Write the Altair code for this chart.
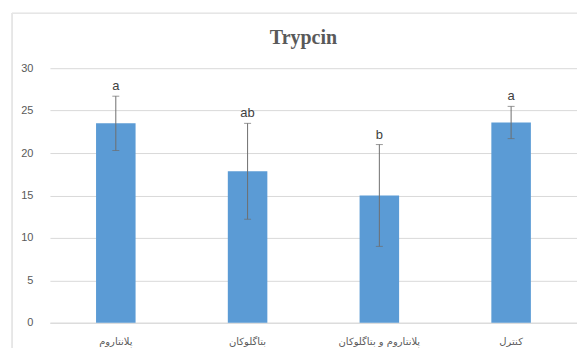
import altair as alt
import pandas as pd

categories = ["پلانتاروم", "بتاگلوکان", "پلانتاروم و بتاگلوکان", "کنترل"]
means = [23.5, 17.85, 15.0, 23.6]
errors = [3.2, 5.65, 6.0, 1.9]
letters = ["a", "ab", "b", "a"]

df = pd.DataFrame({
    "cat": categories,
    "mean": means,
    "err": errors,
    "letter": letters,
})
df["lo"] = df["mean"] - df["err"]
df["hi"] = df["mean"] + df["err"]

x = alt.X("cat:N", sort=categories, title=None,
          scale=alt.Scale(paddingInner=0.7, paddingOuter=0.35),
          axis=alt.Axis(labelAngle=0, labelFont="DejaVu Sans", labelFontSize=10,
                        labelColor="#595959", labelPadding=14, ticks=False,
                        domainColor="#d9d9d9", grid=False))
y = alt.Y("mean:Q", title=None,
          scale=alt.Scale(domain=[0, 30], nice=False),
          axis=alt.Axis(values=[0, 5, 10, 15, 20, 25, 30], ticks=False, domain=False,
                        labelFont="Liberation Sans", labelFontSize=11,
                        labelColor="#595959", labelPadding=17,
                        gridColor="#d9d9d9", gridWidth=1))

base = alt.Chart(df)
bars = base.mark_bar(color="#5b9bd5").encode(x=x, y=y)
rules = base.mark_rule(color="#6e6e6e", strokeWidth=1).encode(
    x=alt.X("cat:N", sort=categories), y="lo:Q", y2="hi:Q")
caps_hi = base.mark_tick(color="#6e6e6e", orient="horizontal", size=7, thickness=1).encode(
    x=alt.X("cat:N", sort=categories), y="hi:Q")
caps_lo = base.mark_tick(color="#6e6e6e", orient="horizontal", size=7, thickness=1).encode(
    x=alt.X("cat:N", sort=categories), y="lo:Q")
labels = base.mark_text(font="Liberation Sans", fontSize=13, color="#404040",
                        baseline="bottom", dy=-3).encode(
    x=alt.X("cat:N", sort=categories), y="hi:Q", text="letter:N")

frame_left = alt.Chart(df).mark_rule(color="#e6e6e6").encode(
    x=alt.value(-38), y=alt.value(-55), y2=alt.value(300))
frame_top = alt.Chart(df).mark_rule(color="#e6e6e6").encode(
    x=alt.value(-38), x2=alt.value(540), y=alt.value(-55))

chart = alt.layer(frame_left, frame_top, bars, rules, caps_hi, caps_lo, labels).properties(
    width=528, height=255,
    title=alt.TitleParams("Trypcin", font="Liberation Serif", fontSize=20, fontWeight="bold",
                          color="#595959", offset=-35, dx=-10),
    autosize=alt.AutoSizeParams(type="none"),
    padding={"left": 42, "top": 60, "right": 0, "bottom": 25},
).configure_view(stroke=None)

chart.save("out.html", embed_options={"renderer": "svg", "actions": False})
